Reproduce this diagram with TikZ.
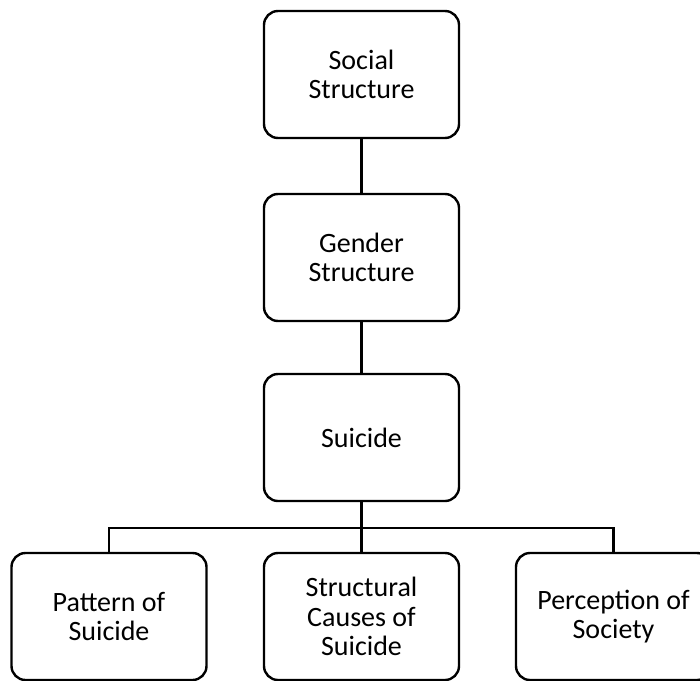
\documentclass[tikz,border=0pt]{standalone}
\usepackage{fontspec}
\setmainfont{Carlito}
\begin{document}
\begin{tikzpicture}[x=1pt,y=-1pt,
  box/.style={draw=black, line width=2.4pt, rounded corners=14pt, fill=white,
    minimum width=195pt, minimum height=127pt, inner sep=0pt, align=center,
    font=\fontsize{28}{29.5}\selectfont},
  link/.style={draw=black, line width=2.4pt}]
\useasboundingbox (0,0) rectangle (700,680);
\clip (0,0) rectangle (700,680);
\fill[white] (0,0) rectangle (700,680);
\node[box] (soc) at (361.5,74.5) {Social\\Structure};
\node[box] (gen) at (361.5,257.5) {Gender\\Structure};
\node[box] (sui) at (361.5,437.5) {Suicide};
\node[box] (pat) at (109,616.5) {Pattern of\\Suicide};
\node[box] (str) at (361.5,616.5) {Structural\\Causes of\\Suicide};
\node[box] (per) at (613.5,616.5) {Perception of\\Society};
\coordinate (bus) at (361.5,528);
\draw[link] (soc.south) -- (gen.north);
\draw[link] (gen.south) -- (sui.north);
\draw[link] (sui.south) -- (str.north);
\draw[link] (pat.north) |- (bus) -| (per.north);
\end{tikzpicture}
\end{document}
